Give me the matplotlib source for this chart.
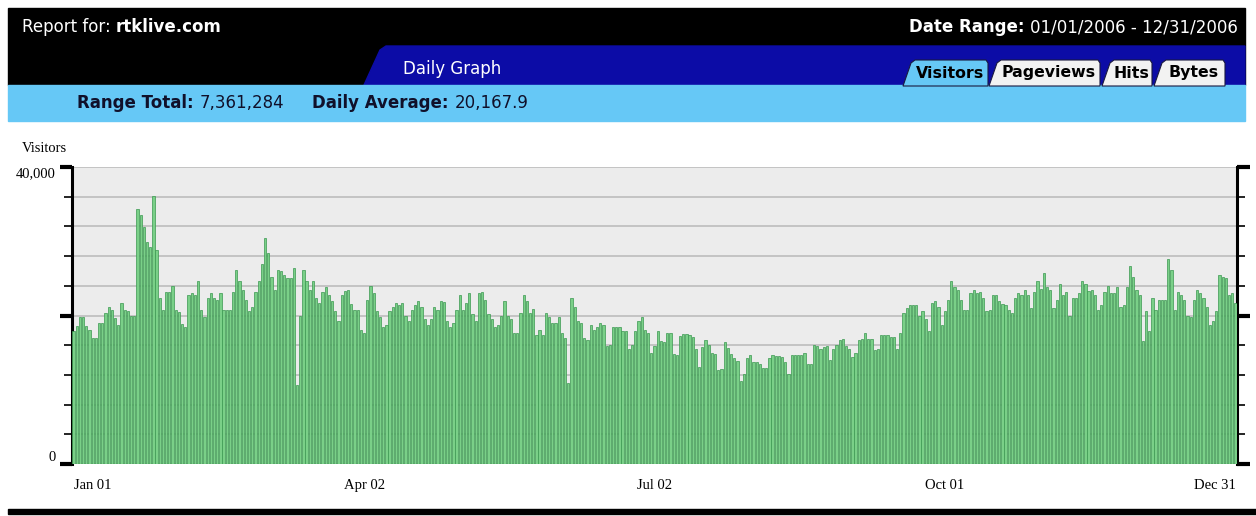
import numpy as np
import matplotlib.pyplot as plt
from matplotlib.patches import Polygon, Rectangle

# ================= DATA =================
# daily visitors, 01/01/2006 - 12/31/2006
visitors = [
    # Jan 01 - Apr 02
    17900, 18600, 19800, 19800, 18600, 18100, 17000, 17000, 19000, 19000,
    20400, 21100, 20700, 19700, 18700, 21700, 20800, 20600, 20000, 20000,
    34300, 33500, 31900, 29900, 29200, 36100, 28800, 22400, 20800, 23200,
    23200, 24000, 20800, 20500, 18800, 18400, 22800, 23000, 22800, 24600,
    20800, 19800, 22400, 23000, 22400, 22100, 23000, 20800, 20800, 20800,
    23200, 26100, 24600, 23500, 22100, 20600, 21100, 23200, 24600, 27000,
    30400, 28400, 25200, 23500, 26100, 26000, 25500, 25100, 25100, 26400,
    10600, 19900, 26100, 24600, 23500, 24600, 22400, 21700, 23200, 23800,
    22800, 21900, 20600, 19200, 22800, 23300, 23500, 21500, 20800, 20800,
    18100, 17700,
    # Apr - Jul
    22100, 24000, 23000, 20600, 19800, 18400, 18700, 20600, 21200, 21700,
    21400, 21700, 20000, 19200, 20800, 21400, 21900, 21100, 19500, 18700,
    19500, 21100, 20800, 21900, 21800, 19200, 18400, 19000, 20800, 22800,
    20800, 21700, 23000, 20200, 19200, 23000, 23200, 22100, 20200, 19500,
    18400, 18700, 20000, 21900, 20000, 19500, 17700, 17700, 20400, 22700,
    21900, 20400, 20900, 17400, 18100, 17400, 20400, 19800, 19000, 19000,
    19800, 17700, 17000, 10900, 22400, 21100, 19200, 19000, 17000, 16700,
    18700, 18100, 18400, 19000, 18700, 15900, 16000, 18400, 18400, 18400,
    17900, 17900, 15500, 16000, 17900, 19200, 19800, 18100, 17700, 14900,
    15900, 17900, 16600, 16400,
    # Jul - Oct
    17700, 17700, 14800, 14700, 17200, 17500, 17500, 17400, 17100, 15500,
    13100, 15700, 16700, 16000, 15000, 14800, 12600, 12800, 16400, 15600,
    14800, 14300, 13900, 11200, 12100, 14300, 14700, 13700, 13700, 13500,
    12900, 12900, 14300, 14700, 14600, 14600, 14400, 13700, 12100, 14700,
    14700, 14700, 14700, 14900, 13500, 13500, 16000, 15900, 15500, 15700,
    15900, 14000, 15500, 16000, 16700, 16900, 15900, 15500, 14400, 15000,
    16700, 16900, 17600, 16900, 16800, 15300, 15500, 17400, 17400, 17400,
    17100, 17100, 15500, 17600, 20400, 21000, 21400, 21400, 21400, 20000,
    20600, 19500, 17900, 21700, 21900, 21100, 18700, 20600, 22100, 24600,
    23900, 23500, 22100,
    # Oct - Dec 31
    20800, 20800, 23000, 23500, 23000, 23200, 22400, 20600, 20800, 22700,
    22700, 21900, 21500, 21400, 20700, 20400, 22400, 23000, 22700, 23500,
    22800, 21000, 23200, 24600, 23600, 25700, 23900, 23500, 21000, 22100,
    24300, 22800, 23200, 19900, 22400, 22300, 23000, 24600, 24200, 23300,
    23500, 22700, 20800, 21400, 23200, 24000, 23000, 23000, 23800, 21100,
    21400, 23900, 26700, 25200, 23500, 22700, 16600, 20600, 17900, 22400,
    20800, 22100, 22100, 22100, 27600, 26100, 20800, 23200, 22700, 22100,
    20000, 19800, 22100, 23500, 23000, 22400, 21100, 18700, 19200, 20600,
    25500, 25200, 25000, 22700, 23000, 21700,
]

tick_days = [0, 91, 182, 273, 364]
tick_labels = ["Jan 01", "Apr 02", "Jul 02", "Oct 01", "Dec 31"]
tabs = ["Visitors", "Pageviews", "Hits", "Bytes"]

# ================= FIGURE =================
W, H = 1256, 516
fig = plt.figure(figsize=(W / 100, H / 100), dpi=100)

# pixel-space layer for the report header
bg = fig.add_axes([0, 0, 1, 1])
bg.set_xlim(0, W)
bg.set_ylim(H, 0)
bg.axis("off")

SANS = "DejaVu Sans"
SERIF = "Liberation Serif"
DARK_BLUE = "#0c0ca6"
LIGHT_BLUE = "#66c8f6"
HDR = 12

bg.add_patch(Rectangle((8, 8), 1237, 77, color="black"))
bg.add_patch(Polygon([(364, 85), (380, 50), (386, 46), (1245, 46), (1245, 85)],
                     closed=True, color=DARK_BLUE))
bg.add_patch(Rectangle((8, 85), 1237, 36, color=LIGHT_BLUE))
bg.add_patch(Rectangle((8, 509), 1248, 5, color="black"))

# tabs
tab_x = [(903, 988), (989, 1100), (1102, 1152), (1154, 1225)]
for i, (x0, x1) in enumerate(tab_x):
    fc = LIGHT_BLUE if i == 0 else "#f2f2f2"
    bg.add_patch(Polygon([(x0, 86), (x0 + 8, 63), (x0 + 12, 60), (x1 - 2, 60),
                          (x1, 63), (x1, 86)], closed=True, fc=fc,
                         ec="#1a1a40", lw=0.8))
    bg.text((x0 + 9 + x1) / 2, 73, tabs[i], ha="center", va="center",
            fontsize=11.3, fontweight="bold", family=SANS, color="black")

bg.text(403, 69, "Daily Graph", ha="left", va="center", fontsize=HDR,
        family=SANS, color="white")

t1 = bg.text(22, 27, "Report for: ", ha="left", va="center", fontsize=HDR,
             family=SANS, color="white")
bg.annotate("rtklive.com", xy=(1, 0), xycoords=t1, ha="left", va="bottom",
            fontsize=HDR, fontweight="bold", family=SANS, color="white")

t2 = bg.text(1238, 27, "01/01/2006 - 12/31/2006", ha="right", va="center",
             fontsize=HDR, family=SANS, color="white")
bg.annotate("Date Range: ", xy=(0, 0), xycoords=t2, ha="right", va="bottom",
            fontsize=HDR, fontweight="bold", family=SANS, color="white")

t3 = bg.text(77, 103, "Range Total: ", ha="left", va="center", fontsize=HDR,
             fontweight="bold", family=SANS, color="#10102a")
bg.annotate("7,361,284", xy=(1, 0), xycoords=t3, ha="left", va="bottom",
            fontsize=HDR, family=SANS, color="#10102a")
t4 = bg.text(312, 103, "Daily Average: ", ha="left", va="center", fontsize=HDR,
             fontweight="bold", family=SANS, color="#10102a")
bg.annotate("20,167.9", xy=(1, 0), xycoords=t4, ha="left", va="bottom",
            fontsize=HDR, family=SANS, color="#10102a")

bg.text(22, 148, "Visitors", ha="left", va="center", fontsize=10.5, family=SERIF)

# ================= DAILY GRAPH =================
ax = fig.add_axes([72 / W, (H - 464) / H, (1237 - 72) / W, (464 - 167) / H])
ax.set_facecolor("#ececec")

days = np.arange(len(visitors))
ax.bar(days, visitors, width=0.7, color="#7ad088", edgecolor="#3a9850",
       linewidth=0.5, zorder=3)

ax.set_xlim(-0.5, 364.5)
ax.set_ylim(0, 40000)

ax.set_yticks([0, 20000, 40000])
ax.set_yticklabels(["0", "", "40,000"], family=SERIF, fontsize=10.5)
ax.set_yticks(np.arange(4000, 40000, 4000), minor=True)
ax.grid(True, axis="y", which="both", color="#bdbdbd", lw=1.2, zorder=0)
for lab in ax.get_yticklabels():
    if lab.get_text() == "0":
        lab.set_va("bottom")
    elif lab.get_text() == "40,000":
        lab.set_va("top")

ax.tick_params(axis="y", which="major", direction="out", length=9, width=3,
               left=True, right=True, labelright=False, pad=3)
ax.tick_params(axis="y", which="minor", direction="out", length=6, width=1.2,
               left=True, right=True)

ax.set_xticks(tick_days)
ax.set_xticklabels(tick_labels, family=SERIF, fontsize=10.5)
ax.tick_params(axis="x", length=0, pad=11)
xl = ax.get_xticklabels()
xl[0].set_ha("left")
xl[-1].set_ha("right")

for side in ["top", "bottom"]:
    ax.spines[side].set_visible(False)
for side in ["left", "right"]:
    ax.spines[side].set_linewidth(2.2)
    ax.spines[side].set_color("black")

fig.savefig("out.png", dpi=100)
